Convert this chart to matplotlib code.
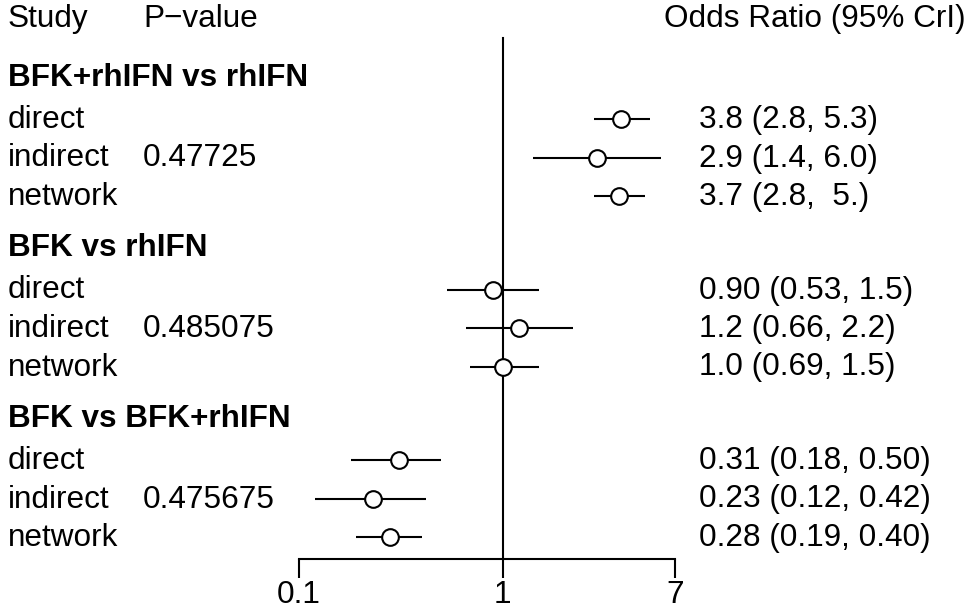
import matplotlib
matplotlib.use("Agg")
import matplotlib.pyplot as plt
import matplotlib.transforms as mtransforms

plt.rcParams['font.family'] = ['Liberation Sans', 'DejaVu Sans']

# comparisons and their evidence rows
groups = ['BFK+rhIFN vs rhIFN', 'BFK vs rhIFN', 'BFK vs BFK+rhIFN']
studies = ['direct', 'indirect', 'network']
pvalues = ['0.47725', '0.485075', '0.475675']

est = [[3.8, 2.9, 3.7], [0.90, 1.2, 1.0], [0.31, 0.23, 0.28]]
lower = [[2.8, 1.4, 2.8], [0.53, 0.66, 0.69], [0.18, 0.12, 0.19]]
upper = [[5.3, 6.0, 5.0], [1.5, 2.2, 1.5], [0.50, 0.42, 0.40]]
labels = [['3.8 (2.8, 5.3)', '2.9 (1.4, 6.0)', '3.7 (2.8,  5.)'],
          ['0.90 (0.53, 1.5)', '1.2 (0.66, 2.2)', '1.0 (0.69, 1.5)'],
          ['0.31 (0.18, 0.50)', '0.23 (0.12, 0.42)', '0.28 (0.19, 0.40)']]

xticks = [0.1, 1, 7]

W, H = 973, 609
fig = plt.figure(figsize=(W / 100, H / 100), dpi=100)
fig.patch.set_facecolor('white')

# axes spans x = 0.1..7 horizontally, from the top of the figure to the axis line
ax_bottom = 559
ax = fig.add_axes([299 / W, (H - ax_bottom) / H, 376 / W, ax_bottom / H])
ax.set_xscale('log')
ax.set_xlim(0.1, 7)
ax.set_ylim(ax_bottom, 0)   # y measured in pixels from the top

fs = 22.7
tr_lab = mtransforms.blended_transform_factory(fig.transFigure, ax.transData)

# layout
title_y0 = 78
group_step = 170.5
first_off = 42
row_step = 38.5

ax.text(8 / W, 19, 'Study', transform=tr_lab, fontsize=fs, va='center', ha='left')
ax.text(143 / W, 19, 'P\u2212value', transform=tr_lab, fontsize=fs, va='center', ha='left')
ax.text(966 / W, 19, 'Odds Ratio (95% CrI)', transform=tr_lab, fontsize=fs, va='center', ha='right')

for g, name in enumerate(groups):
    ty = title_y0 + g * group_step
    ax.text(8 / W, ty, name, transform=tr_lab, fontsize=fs, fontweight='bold',
            va='center', ha='left')
    for i, st in enumerate(studies):
        y = ty + first_off + i * row_step
        ax.text(8 / W, y, st, transform=tr_lab, fontsize=fs, va='center', ha='left')
        if st == 'indirect':
            ax.text(143 / W, y, pvalues[g], transform=tr_lab, fontsize=fs,
                    va='center', ha='left')
        ax.text(699 / W, y, labels[g][i], transform=tr_lab, fontsize=fs,
                va='center', ha='left')
        ax.plot([lower[g][i], upper[g][i]], [y - 1, y - 1], color='black', lw=1.5,
                solid_capstyle='butt', zorder=2)
        ax.plot(est[g][i], y - 1, 'o', ms=12, mfc='white', mec='black', mew=1.5,
                zorder=3)

ax.axvline(1, ymin=0, ymax=(ax_bottom - 38) / ax_bottom, color='black', lw=1.5, zorder=1)

for s in ['top', 'right', 'left']:
    ax.spines[s].set_visible(False)
ax.spines['bottom'].set_linewidth(1.5)
ax.set_yticks([])
ax.set_xticks(xticks)
ax.set_xticklabels(['0.1', '1', '7'])
ax.xaxis.set_minor_locator(matplotlib.ticker.NullLocator())
ax.tick_params(axis='x', direction='out', length=14, width=1.5, labelsize=fs, pad=1)
ax.patch.set_alpha(0)

fig.savefig('out.png', dpi=100)
